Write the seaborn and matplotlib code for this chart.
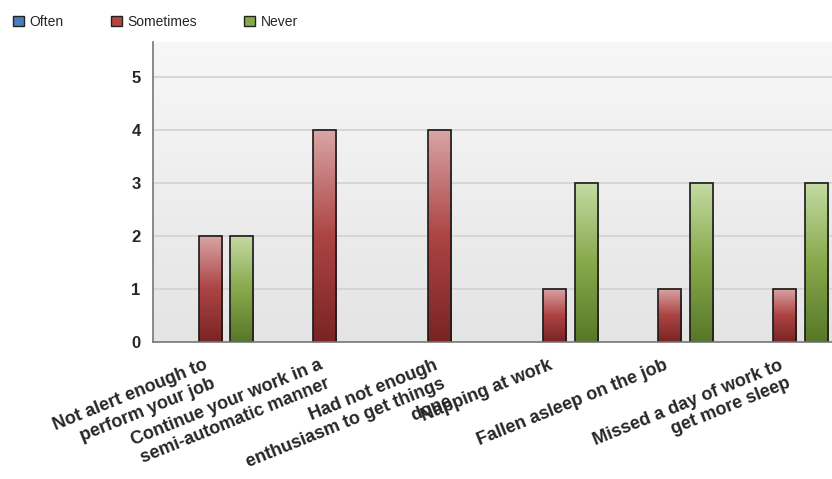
import numpy as np
import pandas as pd
import matplotlib
matplotlib.use('Agg')
import matplotlib.pyplot as plt
import matplotlib.transforms as mtransforms
import seaborn as sns
from matplotlib.colors import LinearSegmentedColormap
from matplotlib.patches import Patch

#%% data
categories = ['Not alert enough to\nperform your job',
              'Continue your work in a\nsemi-automatic manner',
              'Had not enough\nenthusiasm to get things\ndone',
              'Napping at work',
              'Fallen asleep on the job',
              'Missed a day of work to\nget more sleep']
often = [0, 0, 0, 0, 0, 0]
sometimes = [2, 4, 4, 1, 1, 1]
never = [2, 0, 0, 3, 3, 3]
series = ['Often', 'Sometimes', 'Never']
colors = {'Often': '#4a7ebb', 'Sometimes': '#b34545', 'Never': '#86a94a'}
# bottom, middle, top
grad = {'Often': ('#2f5f99', '#4a7ebb', '#9cbbe0'),
        'Sometimes': ('#7a2424', '#ad4444', '#d9a5a5'),
        'Never': ('#587828', '#88a94c', '#c4dba4')}

df = pd.DataFrame({'category': categories * 3,
                   'series': ['Often'] * 6 + ['Sometimes'] * 6 + ['Never'] * 6,
                   'value': often + sometimes + never})

#%% plot
sns.set_style('white')
plt.rcParams['font.family'] = ['Liberation Sans', 'DejaVu Sans']

fig = plt.figure(figsize=(8.32, 4.79), dpi=100)
ax = fig.add_axes([153 / 832, 137 / 479, 679 / 832, 300 / 479])

sns.barplot(data=df, x='category', y='value', hue='series', hue_order=series,
            palette=colors, width=0.834, gap=0.28, edgecolor='#1a1a1a',
            linewidth=1.2, legend=False, ax=ax, zorder=3)

# gradient fill for bars
for i, s in enumerate(series):
    cmap = LinearSegmentedColormap.from_list(s, list(grad[s]))
    for p in ax.patches[i * 6:(i + 1) * 6]:
        h = p.get_height()
        if h <= 0:
            p.set_visible(False)
            continue
        x0, w = p.get_x(), p.get_width()
        g = np.linspace(0, 1, 100).reshape(-1, 1)
        ax.imshow(g, extent=[x0, x0 + w, 0, h], origin='lower', aspect='auto',
                  cmap=cmap, zorder=3, clip_path=p, interpolation='bilinear')
        p.set_facecolor('none')
        p.set_zorder(3.5)

# plot background gradient
bg = LinearSegmentedColormap.from_list('bg', ['#e4e4e4', '#f7f7f7'])
ax.imshow(np.linspace(0, 1, 100).reshape(-1, 1), extent=[0, 1, 0, 1],
          origin='lower', aspect='auto', cmap=bg, transform=ax.transAxes,
          zorder=0, interpolation='bilinear')
ax.set_xlim(-0.496, 5.41)
ax.set_ylim(0, 5.66)

ax.yaxis.grid(True, color='#d2d2d2', linewidth=1.2, zorder=1)
ax.set_axisbelow(True)
for sp in ['top', 'right']:
    ax.spines[sp].set_visible(False)
for sp in ['left', 'bottom']:
    ax.spines[sp].set_color('#777777')
    ax.spines[sp].set_linewidth(1.2)
    ax.spines[sp].set_zorder(4)

ax.tick_params(axis='both', direction='out', length=6, color='#777777', width=1)
ax.tick_params(axis='y', pad=3)
ax.tick_params(axis='x', pad=4)
ax.set_yticks(range(6))
ax.set_yticklabels([str(v) for v in range(6)], fontweight='bold', fontsize=12)
ax.set_xticks(range(6))
ax.set_xticklabels(categories, rotation=22, ha='right', va='top',
                   rotation_mode='anchor', multialignment='right',
                   fontweight='bold', fontsize=13, linespacing=1.2)
# nudge labels a little left, like the original
shift = mtransforms.ScaledTranslation(-6 / 100, -1 / 100, fig.dpi_scale_trans)
for t in ax.get_xticklabels():
    t.set_transform(t.get_transform() + shift)
ax.set_xlabel('')
ax.set_ylabel('')

handles = [Patch(facecolor=colors[s], edgecolor='#222222', linewidth=1) for s in series]
fig.legend(handles, series, loc='upper left', bbox_to_anchor=(0.0, 0.995),
           ncol=3, frameon=False, fontsize=10, handlelength=0.8,
           handleheight=0.8, handletextpad=0.4, columnspacing=3.4)

fig.savefig('out.png', dpi=100)
